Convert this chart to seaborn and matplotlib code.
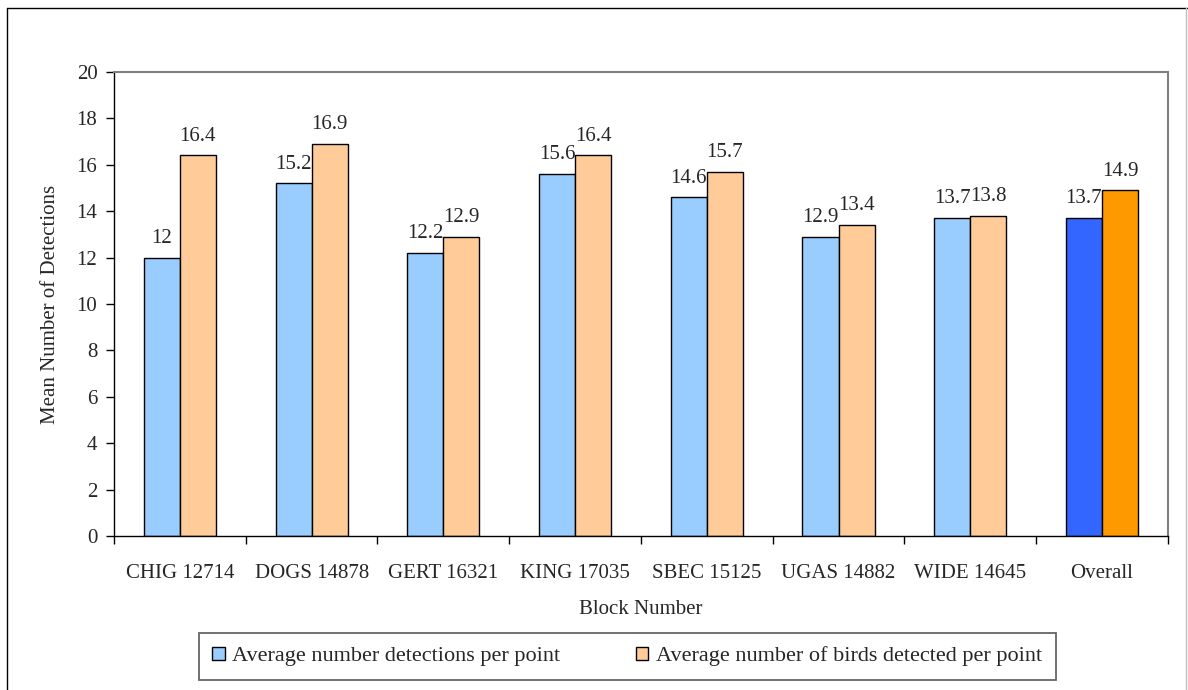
import numpy as np
import pandas as pd
import matplotlib
matplotlib.use("Agg")
import matplotlib.pyplot as plt
import matplotlib.patches as mpatches
import seaborn as sns

# ================= DATA =================
blocks = ["CHIG 12714", "DOGS 14878", "GERT 16321", "KING 17035",
          "SBEC 15125", "UGAS 14882", "WIDE 14645", "Overall"]
detections = [12.0, 15.2, 12.2, 15.6, 14.6, 12.9, 13.7, 13.7]
birds = [16.4, 16.9, 12.9, 16.4, 15.7, 13.4, 13.8, 14.9]
series_names = ["Average number detections per point",
                "Average number of birds detected per point"]

# colores estilo Excel
LIGHT_BLUE = "#99CCFF"
LIGHT_ORANGE = "#FFCC99"
DARK_BLUE = "#3366FF"
DARK_ORANGE = "#FF9900"

FS = 15

# ================= PLOT =================
df = pd.DataFrame({
    "block": blocks * 2,
    "value": detections + birds,
    "series": [series_names[0]] * len(blocks) + [series_names[1]] * len(blocks),
})

sns.set_style("white")
plt.rcParams["font.family"] = ["Liberation Serif", "DejaVu Serif"]

fig = plt.figure(figsize=(11.88, 6.90), dpi=100)
ax = fig.add_axes([0.096, 0.2232, 0.887, 0.6725])

sns.barplot(data=df, x="block", y="value", hue="series", order=blocks,
            hue_order=series_names, palette=[LIGHT_BLUE, LIGHT_ORANGE],
            saturation=1, width=0.547, edgecolor="black", linewidth=1.0,
            ax=ax, legend=False, errorbar=None)

# Colores fuertes para "Overall"
for cont, col, vals in zip(ax.containers, [DARK_BLUE, DARK_ORANGE], [detections, birds]):
    cont.patches[-1].set_facecolor(col)
    ax.bar_label(cont, labels=[f"{v:g}" for v in vals], padding=7, fontsize=FS)

ax.set_ylim(0, 20)
ax.set_xlim(-0.5, len(blocks) - 0.5)
ax.set_yticks(np.arange(0, 21, 2))
ax.tick_params(axis="y", left=True, length=6, width=1, direction="out",
               labelsize=FS, pad=6, color="black")
ax.tick_params(axis="x", bottom=False, labelsize=FS, pad=17)
ax.set_xticks(np.arange(-0.5, len(blocks)), minor=True)
ax.tick_params(axis="x", which="minor", bottom=True, length=6, width=1,
               direction="out", color="black")

ax.set_xlabel("Block Number", fontsize=FS, labelpad=12)
ax.set_ylabel("Mean Number of Detections", fontsize=FS, labelpad=12)

for side in ["left", "bottom"]:
    ax.spines[side].set_color("black")
    ax.spines[side].set_linewidth(1.0)
for side in ["top", "right"]:
    ax.spines[side].set_color("#808080")
    ax.spines[side].set_linewidth(1.5)

# Leyenda
handles = [mpatches.Patch(facecolor=LIGHT_BLUE, edgecolor="black", label=series_names[0]),
           mpatches.Patch(facecolor=LIGHT_ORANGE, edgecolor="black", label=series_names[1])]
leg = fig.legend(handles=handles, loc="center", bbox_to_anchor=(0.528, 0.0486),
                 ncol=2, fontsize=16, frameon=True, fancybox=False,
                 handlelength=0.55, handleheight=0.55, handletextpad=0.35,
                 columnspacing=3.4, borderpad=0.62, borderaxespad=0)
leg.get_frame().set_edgecolor("#404040")
leg.get_frame().set_linewidth(1.3)

# Borde exterior
fig.add_artist(plt.Line2D([0.006, 0.006], [0, 0.989], transform=fig.transFigure,
                          color="black", linewidth=1.0))
fig.add_artist(plt.Line2D([0.006, 0.999], [0.989, 0.989], transform=fig.transFigure,
                          color="black", linewidth=1.0))
fig.add_artist(plt.Line2D([0.998, 0.998], [0, 0.989], transform=fig.transFigure,
                          color="#c0c0c0", linewidth=1.0))

fig.savefig("out.png", dpi=100)
